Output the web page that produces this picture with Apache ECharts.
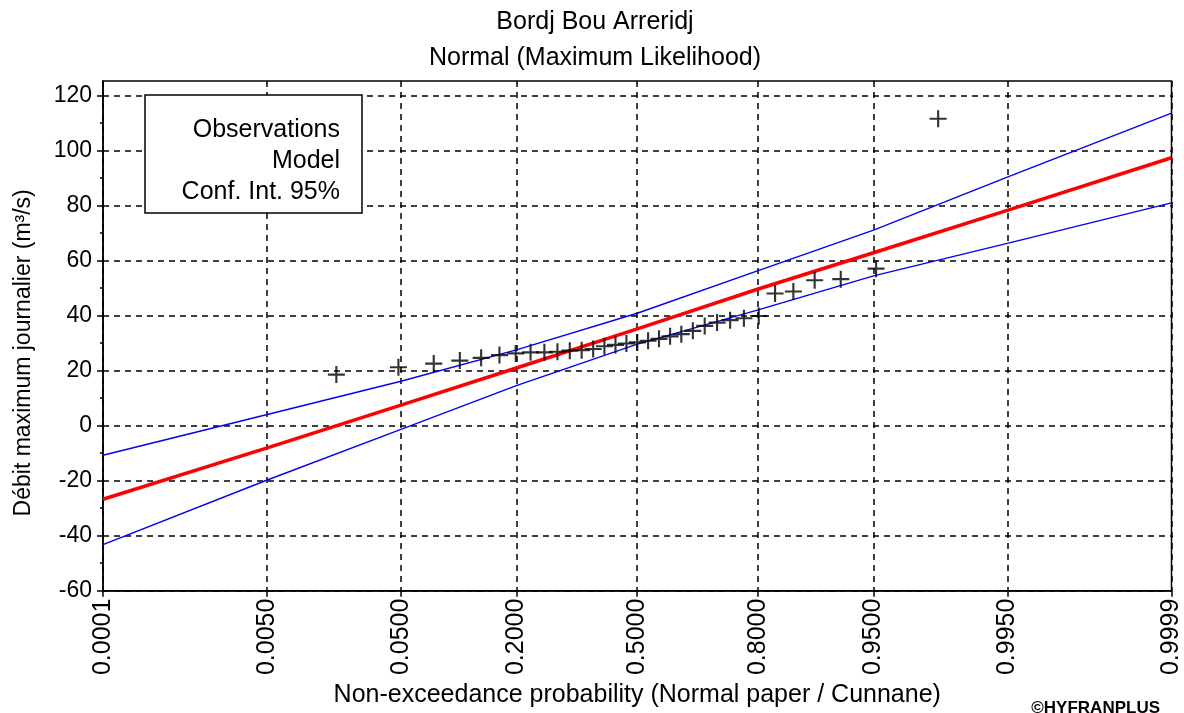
<!DOCTYPE html>
<html><head><meta charset="utf-8">
<script src="https://cdn.jsdelivr.net/npm/echarts@6/dist/echarts.min.js"></script>
<style>html,body{margin:0;padding:0;background:#fff}#c{width:1184px;height:713px}</style>
</head><body><div id="c"></div>
<script>
// ---- data ----
const tickProbs  = [0.0001, 0.005, 0.05, 0.2, 0.5, 0.8, 0.95, 0.995, 0.9999];
const tickLabels = ['0.0001','0.0050','0.0500','0.2000','0.5000','0.8000','0.9500','0.9950','0.9999'];
// Model (red) and 95% confidence bounds (blue) read at each probability tick
const modelValues = [-26.8, -8.1, 7.4, 20.9, 35.1, 49.6, 62.8, 78.2, 97.3];
const upperValues = [-10.8, 4.0, 16.1, 27.5, 40.8, 56.3, 71.0, 90.3, 113.5];
const lowerValues = [-43.3, -19.8, -1.4, 14.5, 29.6, 42.0, 54.4, 66.2, 80.9];
// Observations (Cunnane plotting positions) and discharges
const obsProbs = [0.0181,0.0482,0.0783,0.1084,0.1386,0.1687,0.1988,0.2289,0.2590,0.2892,0.3193,
  0.3494,0.3795,0.4096,0.4398,0.4699,0.5000,0.5301,0.5602,0.5904,0.6205,0.6506,0.6807,0.7108,
  0.7410,0.7711,0.8012,0.8313,0.8614,0.8916,0.9217,0.9518,0.9819];
const obsValues = [18.5,21.2,22.5,23.6,24.6,25.6,26.2,26.6,26.6,26.8,27.2,
  27.4,27.8,28.8,29.3,29.8,30.2,30.8,31.5,32.4,33.2,34.4,36.2,37.4,
  38.3,39.0,39.8,48.0,48.7,52.8,53.2,57.0,111.5];
const yMajorTicks = [-60,-40,-20,0,20,40,60,80,100,120];
const yMinorTicks = [-50,-30,-10,10,30,50,70,90,110];
const titleLines = ['Bordj Bou Arreridj','Normal (Maximum Likelihood)'];
const legendLines = ['Observations','Model','Conf. Int. 95%'];

// normal-probability paper scale (inverse normal CDF)
function probit(p){
  const a=[-3.969683028665376e+01,2.209460984245205e+02,-2.759285104469687e+02,1.383577518672690e+02,-3.066479806614716e+01,2.506628277459239e+00];
  const b=[-5.447609879822406e+01,1.615858368580409e+02,-1.556989798598866e+02,6.680131188771972e+01,-1.328068155288572e+01];
  const c=[-7.784894002430293e-03,-3.223964580411365e-01,-2.400758277161838e+00,-2.549732539343734e+00,4.374664141464968e+00,2.938163982698783e+00];
  const d=[7.784695709041462e-03,3.224671290700398e-01,2.445134137142996e+00,3.754408661907416e+00];
  const pl=0.02425, ph=1-pl; let q,r;
  if(p<pl){q=Math.sqrt(-2*Math.log(p));return (((((c[0]*q+c[1])*q+c[2])*q+c[3])*q+c[4])*q+c[5])/((((d[0]*q+d[1])*q+d[2])*q+d[3])*q+1);}
  if(p<=ph){q=p-0.5;r=q*q;return (((((a[0]*r+a[1])*r+a[2])*r+a[3])*r+a[4])*r+a[5])*q/(((((b[0]*r+b[1])*r+b[2])*r+b[3])*r+b[4])*r+1);}
  q=Math.sqrt(-2*Math.log(1-p));return -(((((c[0]*q+c[1])*q+c[2])*q+c[3])*q+c[4])*q+c[5])/((((d[0]*q+d[1])*q+d[2])*q+d[3])*q+1);
}
const tickZ = tickProbs.map(probit);
const FONT = '"Liberation Sans", Arial, sans-serif';
const FH = 25;   // horizontal texts
const FX = 25;   // x tick labels
const FY = 23;   // y tick labels / y name

const chart = echarts.init(document.getElementById('c'), null, {renderer:'canvas'});
const gridDash = {color:'#000', width:1.5, type:[6,5]};
const option = {
  backgroundColor:'#fff',
  animation:false,
  textStyle:{fontFamily:FONT, color:'#000'},
  grid:{left:103, right:12, top:81, bottom:121, show:true, borderColor:'#000', borderWidth:1.5, backgroundColor:'transparent'},
  xAxis:{
    type:'value', min:tickZ[0], max:tickZ[tickZ.length-1],
    name:'Non-exceedance probability (Normal paper / Cunnane)', nameLocation:'middle', nameGap:88,
    nameTextStyle:{fontSize:FH, color:'#000', fontFamily:FONT},
    axisLine:{show:true, onZero:false, lineStyle:{color:'#000', width:1.5}},
    axisTick:{show:true, customValues:tickZ, length:6, lineStyle:{color:'#000', width:1.5}},
    axisLabel:{customValues:tickZ, rotate:90, margin:8, fontSize:FX, color:'#000', fontFamily:FONT,
      formatter:function(v){let best=0;for(let i=0;i<tickZ.length;i++){if(Math.abs(tickZ[i]-v)<Math.abs(tickZ[best]-v))best=i;}return tickLabels[best];}},
    splitLine:{show:true, lineStyle:gridDash}
  },
  yAxis:[{
    type:'value', min:-60, max:125.2,
    name:'Débit maximum journalier (m³/s)', nameLocation:'middle', nameGap:68,
    nameTextStyle:{fontSize:FY, color:'#000', fontFamily:FONT, padding:[0,34,0,0]},
    axisLine:{show:true, onZero:false, lineStyle:{color:'#000', width:1.5}},
    axisTick:{show:true, customValues:yMajorTicks, length:6, lineStyle:{color:'#000', width:1.5}},
    axisLabel:{customValues:yMajorTicks, margin:11, fontSize:FY, color:'#000', fontFamily:FONT},
    splitLine:{show:true, lineStyle:gridDash}
  },{
    type:'value', min:-60, max:125.2, position:'left', offset:0,
    axisLine:{show:false, onZero:false},
    axisTick:{show:true, customValues:yMinorTicks, length:3, lineStyle:{color:'#000', width:1.5}},
    axisLabel:{show:false},
    splitLine:{show:false}
  }],
  series:[
    {type:'line', name:'Conf. Int. 95% (upper)', data:tickZ.map((z,i)=>[z,upperValues[i]]), showSymbol:false, symbol:'none',
      lineStyle:{color:'#0000ff', width:1.4}, z:3},
    {type:'line', name:'Conf. Int. 95% (lower)', data:tickZ.map((z,i)=>[z,lowerValues[i]]), showSymbol:false, symbol:'none',
      lineStyle:{color:'#0000ff', width:1.4}, z:3},
    {type:'line', name:'Model', data:tickZ.map((z,i)=>[z,modelValues[i]]), showSymbol:false, symbol:'none',
      lineStyle:{color:'#ff0000', width:3.5}, z:4},
    {type:'scatter', name:'Observations', data:obsProbs.map((p,i)=>[probit(p), obsValues[i]]),
      symbol:'path://M7,0h2v16h-2z M0,7h16v2h-16z', symbolSize:17, itemStyle:{color:'#000'}, z:5}
  ],
  graphic:[
    {type:'text', x:595, y:22, style:{text:titleLines[0], align:'center', verticalAlign:'middle', font:FH+'px '+FONT, fill:'#000'}},
    {type:'text', x:595, y:58, style:{text:titleLines[1], align:'center', verticalAlign:'middle', font:FH+'px '+FONT, fill:'#000'}},
    {type:'rect', shape:{x:145, y:95, width:217, height:118}, style:{fill:'#fff', stroke:'#000', lineWidth:1.5}, z:100},
    {type:'text', x:340, y:130, z:101, style:{text:legendLines[0], align:'right', verticalAlign:'middle', font:FH+'px '+FONT, fill:'#000'}},
    {type:'text', x:340, y:161, z:101, style:{text:legendLines[1], align:'right', verticalAlign:'middle', font:FH+'px '+FONT, fill:'#000'}},
    {type:'text', x:340, y:192, z:101, style:{text:legendLines[2], align:'right', verticalAlign:'middle', font:FH+'px '+FONT, fill:'#000'}},
    {type:'text', x:1160, y:700, style:{text:'©HYFRANPLUS', align:'right', verticalAlign:'top', font:'bold 17px '+FONT, fill:'#000'}}
  ]
};
chart.setOption(option);
</script>
</body></html>
